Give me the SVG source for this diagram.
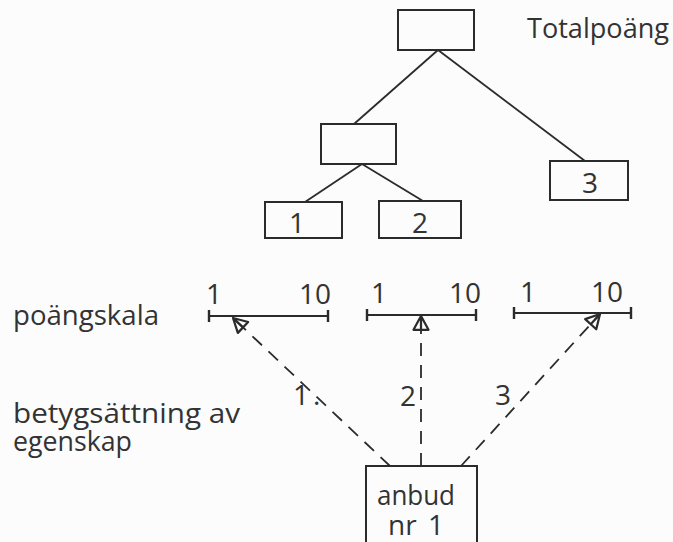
<svg xmlns="http://www.w3.org/2000/svg" width="673" height="542" viewBox="0 0 673 542">
  <style>
    .box { fill: none; stroke: #2b2b2b; stroke-width: 2; }
    .edge { fill: none; stroke: #2b2b2b; stroke-width: 1.8; }
    .dash { fill: none; stroke: #2b2b2b; stroke-width: 1.8; stroke-dasharray: 13 9; }
    .scale { fill: none; stroke: #2b2b2b; stroke-width: 2; }
    .tick { fill: none; stroke: #2b2b2b; stroke-width: 2.4; }
    text { font-family: "Open Sans", "DejaVu Sans", sans-serif; fill: #333333; font-size: 28px; }
  </style>
  <defs>
    <!-- open pointer resting on a score scale -->
    <marker id="pointer" markerUnits="userSpaceOnUse" markerWidth="20" markerHeight="20"
            viewBox="-14 -8 16 16" refX="0" refY="0" orient="auto">
      <path d="M0,0 L-11,-6 L-11,6 Z M-11,0 L0,0" fill="none" stroke="#2b2b2b" stroke-width="1.8" stroke-linejoin="round"/>
    </marker>
  </defs>

  <rect width="673" height="542" fill="#fcfcfc"/>

  <!-- hierarchy connectors and rating connectors -->
  <g id="connectors">
    <line class="edge" x1="438" y1="50" x2="354" y2="124"/>
    <line class="edge" x1="438" y1="50" x2="585" y2="161"/>
    <line class="edge" x1="362" y1="164" x2="305" y2="202"/>
    <line class="edge" x1="362" y1="164" x2="423" y2="201"/>
    <line class="dash" x1="390" y1="466" x2="233" y2="318" marker-end="url(#pointer)"/>
    <line class="dash" x1="421" y1="466" x2="421" y2="316" marker-end="url(#pointer)"/>
    <line class="dash" x1="461" y1="466" x2="600" y2="314" marker-end="url(#pointer)"/>
  </g>

  <!-- tree nodes -->
  <g id="total">
    <rect class="box" x="398" y="10" width="76" height="40"/>
    <text x="527" y="38" textLength="142" lengthAdjust="spacingAndGlyphs">Totalpoäng</text>
  </g>
  <g id="group12">
    <rect class="box" x="321" y="124" width="75" height="40"/>
  </g>
  <g id="prop1">
    <rect class="box" x="265" y="202" width="77" height="36"/>
    <text x="297" y="233" text-anchor="middle">1</text>
  </g>
  <g id="prop2">
    <rect class="box" x="379" y="201" width="82" height="37"/>
    <text x="420" y="233" text-anchor="middle">2</text>
  </g>
  <g id="prop3">
    <rect class="box" x="550" y="161" width="78" height="39"/>
    <text x="590" y="193" text-anchor="middle">3</text>
  </g>

  <!-- score scales 1..10 -->
  <g id="scale1">
    <line class="scale" x1="209" y1="316" x2="328" y2="316"/>
    <line class="tick" x1="209" y1="310" x2="209" y2="322"/>
    <line class="tick" x1="328" y1="310" x2="328" y2="322"/>
    <text x="206" y="304">1</text>
    <text x="299" y="304">10</text>
  </g>
  <g id="scale2">
    <line class="scale" x1="367" y1="315" x2="476" y2="315"/>
    <line class="tick" x1="367" y1="309" x2="367" y2="321"/>
    <line class="tick" x1="476" y1="309" x2="476" y2="321"/>
    <text x="371" y="303">1</text>
    <text x="449" y="303">10</text>
  </g>
  <g id="scale3">
    <line class="scale" x1="514" y1="313" x2="631" y2="313"/>
    <line class="tick" x1="514" y1="307" x2="514" y2="319"/>
    <line class="tick" x1="631" y1="307" x2="631" y2="319"/>
    <text x="520" y="302">1</text>
    <text x="591" y="302">10</text>
  </g>

  <!-- row labels -->
  <g id="labels">
    <text x="13" y="325" textLength="146" lengthAdjust="spacingAndGlyphs">poängskala</text>
    <text x="13" y="423" textLength="227" lengthAdjust="spacingAndGlyphs">betygsättning av</text>
    <text x="13" y="451" textLength="119" lengthAdjust="spacingAndGlyphs">egenskap</text>
  </g>

  <!-- rating numbers on the connectors -->
  <g id="ratings">
    <text x="293" y="405">1<tspan x="313">.</tspan></text>
    <text x="400" y="406">2</text>
    <text x="495" y="405">3</text>
  </g>

  <!-- the offer being rated -->
  <g id="offer">
    <rect class="box" x="366" y="466" width="111" height="90"/>
    <text x="377" y="505" textLength="78" lengthAdjust="spacingAndGlyphs">anbud</text>
    <text x="388" y="535">nr<tspan x="428">1</tspan></text>
  </g>
</svg>
